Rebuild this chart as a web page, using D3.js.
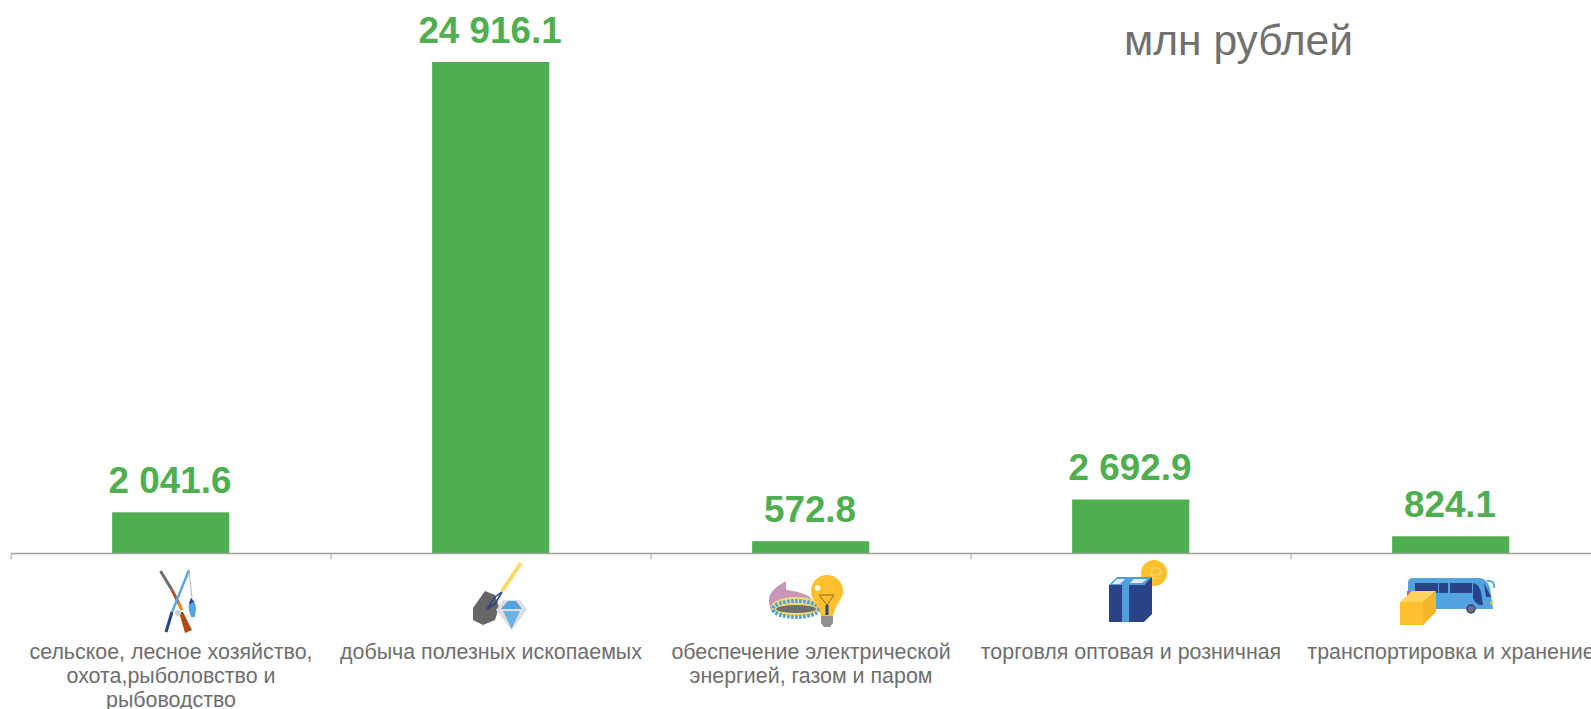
<!DOCTYPE html>
<html><head><meta charset="utf-8">
<script src="https://cdn.jsdelivr.net/npm/d3@7/dist/d3.min.js"></script>
<style>html,body{margin:0;padding:0;background:#fff;overflow:hidden}svg{display:block}text{font-family:"Liberation Sans",Arial,sans-serif}</style>
</head><body><svg id="c" width="1591" height="709"></svg>
<script>
const categories = ["agri","mining","energy","trade","transport"];
const values = [2041.6, 24916.1, 572.8, 2692.9, 824.1];
const valueLabels = ["2 041.6","24 916.1","572.8","2 692.9","824.1"];
const categoryLabels = [
  ["сельское, лесное хозяйство,","охота,рыболовство и","рыбоводство"],
  ["добыча полезных ископаемых"],
  ["обеспечение электрической","энергией, газом и паром"],
  ["торговля оптовая и розничная"],
  ["транспортировка и хранение"]
];
const unitLabel = "млн рублей";

const svg = d3.select("#c");
const axisY = 553.5, GREEN = "#4EAE50", AXIS = "#A0A0A0";
const x = d3.scaleBand().domain(categories).range([11, 1611]).paddingInner(0.634).paddingOuter(0.317);
const y = d3.scaleLinear().domain([0, d3.max(values)]).range([552.5, 62]);

svg.append("g").selectAll("rect").data(categories).join("rect")
  .attr("x", d => x(d) - 0.3).attr("width", x.bandwidth())
  .attr("y", (d,i) => y(values[i])).attr("height", (d,i) => axisY - y(values[i]))
  .attr("fill", GREEN);

const axis = d3.axisBottom(d3.scaleLinear().domain([0,5]).range([10.5,1610.5])).ticks(5).tickSize(6).tickFormat("");
const ag = svg.append("g").attr("transform", `translate(0,${axisY})`).call(axis);
ag.selectAll("path").attr("stroke", AXIS).attr("stroke-width", 1.5).attr("d", "M11,0H1611");
ag.selectAll("line").attr("stroke", AXIS).attr("stroke-width", 1);

svg.append("g").selectAll("text").data(categories).join("text")
  .attr("x", d => x(d) + x.bandwidth()/2 - 1)
  .attr("y", (d,i) => y(values[i]) - 19)
  .attr("text-anchor", "middle").attr("font-size", 36.8).attr("font-weight", "bold")
  .attr("fill", GREEN).text((d,i) => valueLabels[i]);

svg.append("text").attr("x", 1238.5).attr("y", 54.5).attr("text-anchor", "middle")
  .attr("font-size", 42.5).attr("fill", "#707070").text(unitLabel);

const lab = svg.append("g").selectAll("g").data(categories).join("g")
  .attr("transform", d => `translate(${x(d)+x.bandwidth()/2},0)`);
lab.each(function(d,i){
  d3.select(this).selectAll("text").data(categoryLabels[i]).join("text")
    .attr("y", (t,j) => 659 + j*24).attr("text-anchor","middle")
    .attr("font-size", 21.4).attr("fill","#6E6E6E").text(t => t);
});

// Pictograms, drawn in a local frame: origin at the category centre, y measured from 540.
const icon = k => svg.append("g").attr("transform", `translate(${x(k)+x.bandwidth()/2},540)`);
const P = (g,d,f) => g.append("path").attr("d",d).attr("fill",f);
const L = (g,d,s,w) => g.append("path").attr("d",d).attr("fill","none").attr("stroke",s).attr("stroke-width",w);

// fishing rod + rifle
let g = icon("agri");
L(g,"M-10.5,31L1,50","#6E6E6E",3);
L(g,"M1,50L10,68","#B5501F",3);
L(g,"M7,62L11,70","#E0901F",3);
P(g,"M8,72L12,72L21,90L14,93Z","#B04A12");
L(g,"M18,30L1,72","#5BA7E0",2.5);
L(g,"M1,72L-5,92","#2A4287",3);
L(g,"M18,30L21,58","#B8B8B8",1);
P(g,"M20,58C24,61 25,65 25,69L24,77L20,77C18,70 16,65 20,58Z","#52A3DF");
P(g,"M20,58L23,62L18,64Z","#2A4287");
g.append("circle").attr("cx",7).attr("cy",73).attr("r",3).attr("fill","#D0D0D0");

// shovel + diamond
g = icon("mining");
L(g,"M30,23L11,51","#FFD966",4);
P(g,"M-6,51L4,55L8,67L4,80L-8,85L-18,80L-18,68Z","#666666");
L(g,"M11,52L4,57L-4,69L4,64Z","#2A4287",1.5);
P(g,"M12,60H29L36,70L20.6,90L5,70Z","#DEDEDE");
P(g,"M17,61H25L31,69H10Z","#52A3DF");
P(g,"M12,71H29L20.6,89Z","#6BB3E6");

// gas burner + bulb
g = icon("energy");
P(g,"M-25,41C-34,46 -42,52 -42,60C-42,66 -40,70 -38,72L2,60C-3,54 -14,51 -25,50Z","#C896B8");
g.append("ellipse").attr("cx",-15).attr("cy",67).attr("rx",25).attr("ry",10).attr("fill","#F8DC72");
g.append("ellipse").attr("cx",-15).attr("cy",69).attr("rx",23).attr("ry",8).attr("fill","none")
  .attr("stroke","#4F9FDB").attr("stroke-width",4).attr("stroke-dasharray","2.5 1.5");
g.append("ellipse").attr("cx",-15).attr("cy",69).attr("rx",20).attr("ry",4).attr("fill","#6E6E6E");
P(g,"M16,35C25,35 32,42 32,51C32,60 24,64 22,76H10C8,64 0,60 0,51C0,42 7,35 16,35Z","#FFC02E");
g.append("circle").attr("cx",6.5).attr("cy",48).attr("r",2.8).attr("fill","#FFF");
L(g,"M8,55H23L16,65Z","#7F6A20",1);
L(g,"M16,65V75","#2A4287",3);
P(g,"M10,76H22V83L19,87H13L10,83Z","#909090");

// gift box + coin
g = icon("trade");
g.append("circle").attr("cx",23).attr("cy",33).attr("r",13).attr("fill","#FFC02E");
L(g,"M21,41V28H26A3.5,3.5 0 0 1 26,35H18M18,38H26","#FFDA7A",1.2);
P(g,"M-22,45L-14,37H21L13,45Z","#4F9FDB");
P(g,"M-22,45H13V82H-22Z","#2A4287");
P(g,"M13,45L21,37V74L13,82Z","#2A4287");
P(g,"M-9,45H-2V82H-9Z","#4F9FDB");
P(g,"M-19,44L-14,39H-6L-11,44Z","#DCEBF7");
P(g,"M-1,43L3,39H16L11,43Z","#DCEBF7");

// bus + parcel
g = icon("transport");
P(g,"M-43,43Q-43,38 -38,38H29Q36,39 39,48L42,69H-43Z","#52A3DF");
P(g,"M-36,43H-13V53H-36Z","#2A4287");
P(g,"M-12,43H-3V53H-12Z","#2A4287");
P(g,"M-1,43H21V53H-1Z","#2A4287");
P(g,"M22,43Q28,44 30,52L32,65Q25,66 22,58Z","#2A4287");
P(g,"M33,43L40,57H35Z","#2A4287");
L(g,"M36,41Q44,40 43,48","#52A3DF",1.8);
P(g,"M39,62H42V64.5H39Z","#FFC02E");
g.append("circle").attr("cx",20).attr("cy",69).attr("r",4).attr("fill","#6E6E6E").attr("stroke","#2A4287").attr("stroke-width",1.5);
P(g,"M-44,51H-42V57H-44Z","#E05050");
P(g,"M-51,62L-39,51H-15L-28,62Z","#FFD35C");
P(g,"M-51,62H-28V85H-51Z","#FFC02E");
P(g,"M-28,62L-15,51V72L-28,85Z","#F4B62A");
</script></body></html>
